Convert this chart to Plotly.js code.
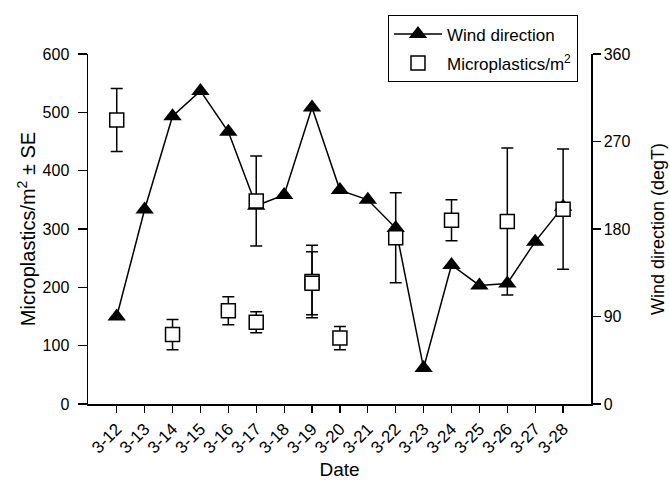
<!DOCTYPE html>
<html>
<head>
<meta charset="utf-8">
<script src="https://cdn.plot.ly/plotly-3.0.1.min.js"></script>
<style>html,body{margin:0;padding:0;background:#fff;}#chart{width:670px;height:480px;}</style>
</head>
<body>
<div id="chart"></div>
<script>
const dates = ['3-12','3-13','3-14','3-15','3-16','3-17','3-18','3-19','3-20','3-21','3-22','3-23','3-24','3-25','3-26','3-27','3-28'];
const windDirection = [90, 200, 296, 322, 280, 204, 215, 305, 220, 210, 181, 37, 143, 122, 124, 167, 203];

const mpDates = ['3-12','3-14','3-16','3-17','3-17','3-19','3-19','3-20','3-22','3-24','3-26','3-28'];
const mpValues = [487, 119, 160, 348, 140, 210, 207, 113, 285, 315, 313, 334];
const mpSE = [54, 26, 24, 77, 18, 62, 54, 20, 77, 35, 126, 103];

const leftTicks = [0, 100, 200, 300, 400, 500, 600];
const rightTicks = [0, 90, 180, 270, 360];

const FONT = 'Liberation Sans, Arial, sans-serif';

const traces = [
  {
    name: 'Wind direction',
    legendgroup: 'wind',
    x: dates,
    y: windDirection,
    type: 'scatter',
    mode: 'lines+markers',
    yaxis: 'y',
    line: {color: '#000', width: 1.5},
    marker: {symbol: 'triangle-up', size: 16, color: '#000', line: {width: 0}}
  },
  {
    name: 'Microplastics/m<sup>2</sup>',
    legendgroup: 'mp',
    x: mpDates,
    y: mpValues,
    type: 'scatter',
    mode: 'markers',
    yaxis: 'y2',
    error_y: {type: 'data', array: mpSE, visible: true, color: '#000', thickness: 1.5, width: 6},
    marker: {symbol: 'square', size: 14, color: '#fff', line: {color: '#000', width: 1.5}}
  }
];

const layout = {
  width: 670,
  height: 480,
  margin: {l: 88, r: 79, t: 54, b: 76},
  paper_bgcolor: '#fff',
  plot_bgcolor: '#fff',
  font: {family: FONT, size: 16, color: '#000'},
  showlegend: true,
  legend: {
    x: 0.596, y: 1.111, xanchor: 'left', yanchor: 'top',
    bordercolor: '#000', borderwidth: 1.2, bgcolor: '#fff',
    font: {family: FONT, size: 17, color: '#000'},
    itemwidth: 48,
    traceorder: 'grouped',
    tracegroupgap: 4
  },
  xaxis: {
    type: 'category',
    range: [-1.03, 17],
    showline: true, linecolor: '#000', linewidth: 1.5,
    ticks: 'outside', ticklen: 7, tickwidth: 1.2, tickcolor: '#000',
    tickangle: -45,
    tickfont: {family: FONT, size: 17},
    showgrid: false, zeroline: false,
    title: {text: 'Date', font: {family: FONT, size: 19}, standoff: 12}
  },
  yaxis: {
    side: 'right',
    range: [0, 360],
    tickvals: rightTicks,
    showline: true, linecolor: '#000', linewidth: 1.5,
    ticks: 'outside', ticklen: 8, tickwidth: 1.2, tickcolor: '#000',
    tickfont: {family: FONT, size: 16},
    showgrid: false, zeroline: false,
    title: {text: 'Wind direction (degT)', font: {family: FONT, size: 18}, standoff: 22}
  },
  yaxis2: {
    overlaying: 'y',
    side: 'left',
    range: [0, 600],
    tickvals: leftTicks,
    showline: true, linecolor: '#000', linewidth: 1.5,
    ticks: 'outside', ticklen: 9, tickwidth: 1.2, tickcolor: '#000',
    ticklabelstandoff: 5,
    tickfont: {family: FONT, size: 16},
    showgrid: false, zeroline: false,
    title: {text: 'Microplastics/m<sup>2</sup> ± SE', font: {family: FONT, size: 20}, standoff: 1}
  }
};

Plotly.newPlot('chart', traces, layout, {displayModeBar: false, staticPlot: true});
</script>
</body>
</html>
